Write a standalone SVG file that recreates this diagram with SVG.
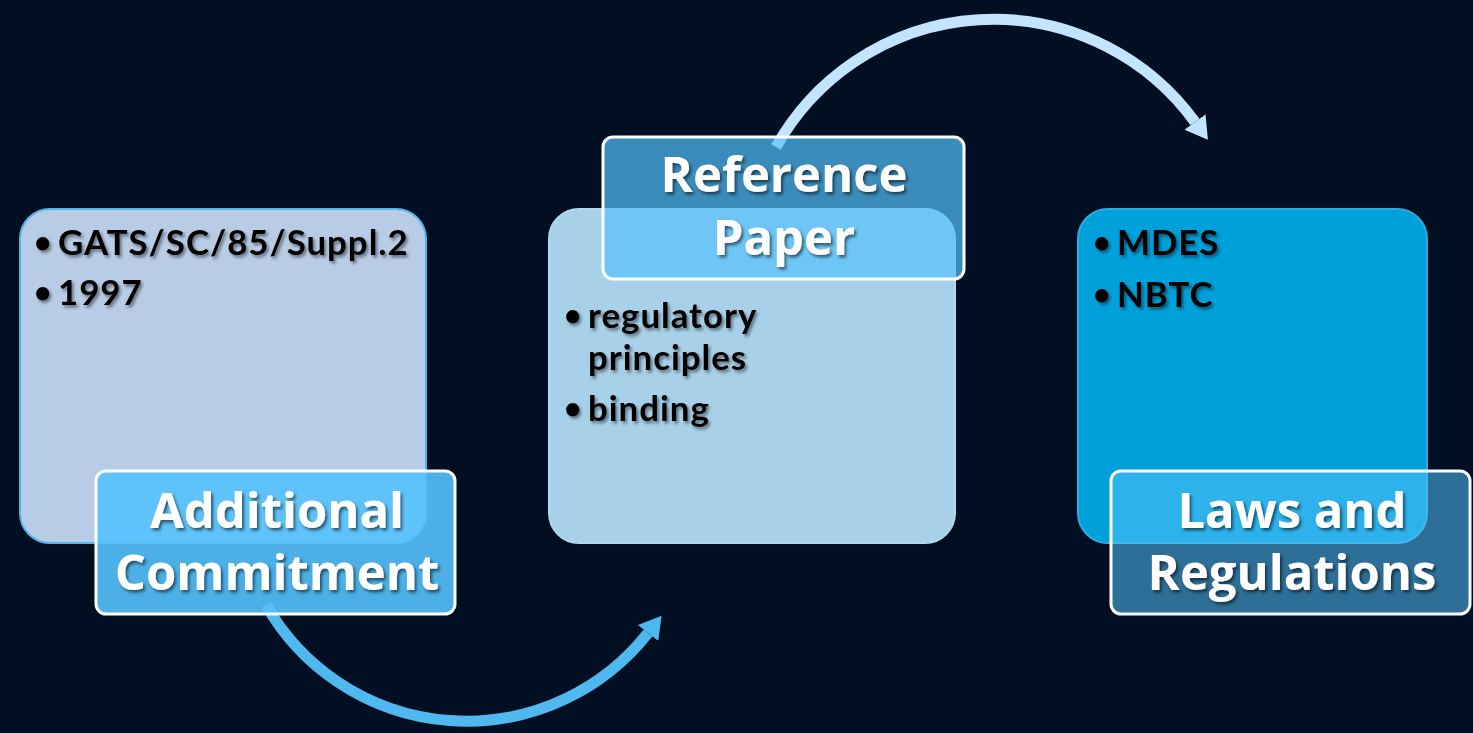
<svg xmlns="http://www.w3.org/2000/svg" width="1473" height="733" viewBox="0 0 1473 733">
<style>
.box{stroke-width:2}
.lbl{fill:rgb(84,194,252);stroke:#ffffff;stroke-width:3}
.lt{font-family:"Open Sans","Liberation Sans",sans-serif;font-weight:700;font-size:49px;fill:#ffffff;text-anchor:middle;filter:url(#sh)}
.bt{font-family:Lato,"Open Sans","Liberation Sans",sans-serif;font-weight:700;font-size:34.8px;letter-spacing:1px;fill:#000000;filter:url(#sh2)}
.bu{font-family:Lato,"Open Sans","Liberation Sans",sans-serif;font-weight:700;font-size:30px;fill:#000000;filter:url(#sh2)}
.arc{fill:none;stroke-width:11}
</style>
<defs>
<filter id="sh" x="-10%" y="-20%" width="120%" height="150%"><feDropShadow dx="2" dy="2.5" stdDeviation="1.5" flood-color="#000000" flood-opacity="0.55"/></filter>
<filter id="sh2" x="-10%" y="-20%" width="120%" height="150%"><feDropShadow dx="2" dy="2.5" stdDeviation="1.5" flood-color="#000000" flood-opacity="0.45"/></filter>
<marker id="ah1" markerUnits="userSpaceOnUse" markerWidth="30" markerHeight="30" refX="0" refY="13" orient="auto"><path d="M0,0 L22,13 L0,26 z" fill="#4fb9ef"/></marker>
<marker id="ah2" markerUnits="userSpaceOnUse" markerWidth="30" markerHeight="30" refX="0" refY="13" orient="auto"><path d="M0,0 L22,13 L0,26 z" fill="#c2e4fe"/></marker>
</defs>
<rect width="1473" height="733" fill="#020f22"/>
<g id="connectors">
<path class="arc" d="M266 605 A231 231 0 0 0 648 633" stroke="#4fb9ef" marker-end="url(#ah1)"/>
<path class="arc" d="M776 147 A249 249 0 0 1 1195 122" stroke="#c2e4fe" marker-end="url(#ah2)"/>
</g>
<g id="node-additional-commitment">
<rect class="box" x="20" y="209" width="406" height="334" rx="30" fill="#b8cce6" stroke="#52b6ec"/>
<text class="bu" x="34" y="253">•</text>
<text class="bt" x="58" y="255">GATS/SC/85/Suppl.2</text>
<text class="bu" x="34" y="303">•</text>
<text class="bt" x="58" y="305">1997</text>
<rect class="lbl" x="96" y="471" width="359" height="143" rx="10" fill-opacity="0.9"/>
<text class="lt" x="277" y="528">Additional<tspan x="277" dy="62">Commitment</tspan></text>
</g>
<g id="node-reference-paper">
<rect class="box" x="549" y="209" width="406" height="334" rx="30" fill="#a8d0e8" stroke="#b0d8ee"/>
<text class="bu" x="564" y="326">•</text>
<text class="bt" x="588" y="328">regulatory<tspan x="588" dy="42">principles</tspan></text>
<text class="bu" x="564" y="419">•</text>
<text class="bt" x="588" y="421">binding</text>
<rect class="lbl" x="603" y="137" width="361" height="142" rx="10" fill-opacity="0.7"/>
<text class="lt" x="784" y="192">Reference<tspan x="784" dy="63">Paper</tspan></text>
</g>
<g id="node-laws-regulations">
<rect class="box" x="1078" y="209" width="349" height="334" rx="30" fill="#00a0da" stroke="#2aaee0"/>
<text class="bu" x="1093" y="253">•</text>
<text class="bt" x="1117" y="255">MDES</text>
<text class="bu" x="1093" y="305">•</text>
<text class="bt" x="1117" y="307">NBTC</text>
<rect class="lbl" x="1111" y="471" width="359" height="143" rx="10" fill-opacity="0.54"/>
<text class="lt" x="1292" y="528">Laws and<tspan x="1292" dy="62">Regulations</tspan></text>
</g>
</svg>
